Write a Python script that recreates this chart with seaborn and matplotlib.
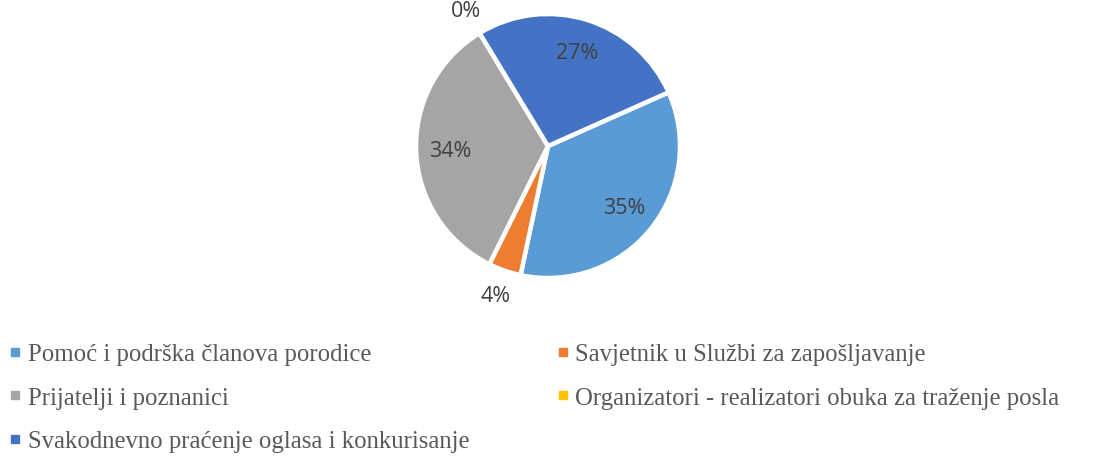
import numpy as np
import matplotlib
matplotlib.use("Agg")
import matplotlib.pyplot as plt
from matplotlib.lines import Line2D
import seaborn as sns

categories = [
    "Pomoć i podrška članova porodice",
    "Savjetnik u Službi za zapošljavanje",
    "Prijatelji i poznanici",
    "Organizatori - realizatori obuka za traženje posla",
    "Svakodnevno praćenje oglasa i konkurisanje",
]
values = [35, 4, 34, 0, 27]
colors = ["#5B9BD5", "#ED7D31", "#A5A5A5", "#FFC000", "#4472C4"]

sns.set_theme(style="white")
plt.rcParams["font.family"] = ["DejaVu Sans"]

fig = plt.figure(figsize=(11.07, 4.60), dpi=100)
W, H = 1107, 460
cx, cy, r = 548, 147, 132
ax = fig.add_axes([(cx - r) / W, (H - cy - r) / H, 2 * r / W, 2 * r / H])

wedges, texts, autotexts = ax.pie(
    values, colors=colors, startangle=24, counterclock=False,
    autopct=lambda p: f"{p:.0f}%", pctdistance=0.74,
    wedgeprops=dict(edgecolor="white", linewidth=3.2),
    textprops=dict(fontsize=15.5, color="#404040", family="Open Sans"),
)
for w, t, v in zip(wedges, autotexts, values):
    if v < 10:
        mid = np.deg2rad((w.theta1 + w.theta2) / 2)
        t.set_position((1.2 * np.cos(mid), 1.2 * np.sin(mid)))
ax.set_xlim(-1, 1)
ax.set_ylim(-1, 1)
ax.set_aspect("auto")
ax.axis("off")

order = [0, 2, 4, 1, 3]
handles = [Line2D([], [], linestyle="none", marker="s", markersize=6,
                  markerfacecolor=colors[i], markeredgecolor=colors[i]) for i in order]
labels = [categories[i] for i in order]
leg = fig.legend(handles, labels, ncol=2, loc="upper left",
                 bbox_to_anchor=(9.3 / W, 1 - 344 / H), frameon=False,
                 prop=dict(family="Liberation Serif", size=17.8),
                 labelcolor="#595959", handlelength=0.5, handletextpad=0.25,
                 columnspacing=3.54, labelspacing=0.86, borderpad=0,
                 borderaxespad=0)

fig.savefig("out.png", dpi=100, facecolor="white")
